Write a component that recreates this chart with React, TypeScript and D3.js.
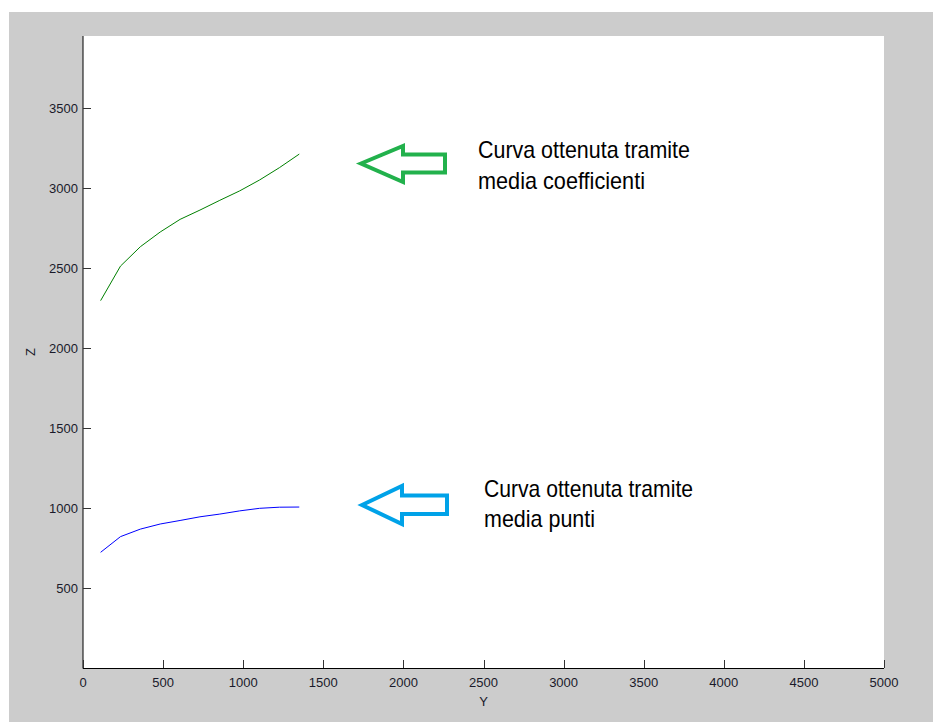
import React from "react";
import * as d3 from "d3";

// Sampled Y positions shared by both curves
const yValues = [110, 234, 358, 482, 606, 730, 854, 978, 1102, 1226, 1350];
// Curve from averaged coefficients
const zCoefficients = [2296, 2512, 2633, 2725, 2804, 2862, 2923, 2982, 3050, 3127, 3212];
// Curve from averaged points
const zPoints = [723, 821, 868, 900, 922, 945, 962, 982, 998, 1005, 1006];

const xTicks = [0, 500, 1000, 1500, 2000, 2500, 3000, 3500, 4000, 4500, 5000];
const yTicks = [500, 1000, 1500, 2000, 2500, 3000, 3500];

const W = 933;
const H = 722;
const left = 83;
const right = 884;
const top = 36;
const bottom = 668;

export default function App() {
  const x = d3.scaleLinear().domain([0, 5000]).range([left, right]);
  const y = d3.scaleLinear().domain([0, 3950]).range([bottom, top]);

  const line = d3
    .line<number>()
    .x((_, i) => x(yValues[i]))
    .y((d) => y(d));

  // Hollow left-pointing arrow
  const arrow = (tipX: number, tipY: number, headX: number, headTop: number, headBot: number, shaftTop: number, shaftBot: number, endX: number) =>
    `M${tipX},${tipY} L${headX},${headTop} L${headX},${shaftTop} L${endX},${shaftTop} L${endX},${shaftBot} L${headX},${shaftBot} L${headX},${headBot} Z`;

  const font = "'Liberation Sans', Arial, sans-serif";

  return (
    <svg
      width={W}
      height={H}
      style={{ position: "absolute", left: 0, top: 0, background: "#fff" }}
    >
      <rect x={9} y={12} width={W - 9} height={H - 12} fill="#cccccc" />
      <rect x={left} y={top} width={right - left} height={bottom - top} fill="#ffffff" />

      {/* axes */}
      <line x1={left} y1={top} x2={left} y2={bottom + 0.5} stroke="#000" strokeWidth={1} />
      <line x1={left} y1={bottom + 0.5} x2={right} y2={bottom + 0.5} stroke="#000" strokeWidth={1} />

      {xTicks.map((t) => (
        <g key={"x" + t}>
          <line x1={Math.round(x(t)) + 0.5} x2={Math.round(x(t)) + 0.5} y1={bottom} y2={bottom - 8} stroke="#333" />
          <text
            x={x(t)}
            y={687}
            textAnchor="middle"
            fontFamily={font}
            fontSize={13}
            fill="#1a1a2a"
          >
            {t}
          </text>
        </g>
      ))}
      {yTicks.map((t) => (
        <g key={"y" + t}>
          <line x1={left} x2={left + 8} y1={Math.round(y(t)) + 0.5} y2={Math.round(y(t)) + 0.5} stroke="#333" />
          <text
            x={78}
            y={y(t) + 4.5}
            textAnchor="end"
            fontFamily={font}
            fontSize={13}
            fill="#1a1a2a"
          >
            {t}
          </text>
        </g>
      ))}

      <text x={(left + right) / 2} y={706} textAnchor="middle" fontFamily={font} fontSize={13} fill="#1a1a2a">
        Y
      </text>
      <text
        transform={`translate(35,352) rotate(-90)`}
        textAnchor="middle"
        fontFamily={font}
        fontSize={13}
        fill="#1a1a2a"
      >
        Z
      </text>

      <path d={line(zCoefficients) ?? ""} fill="none" stroke="#008000" strokeWidth={1} />
      <path d={line(zPoints) ?? ""} fill="none" stroke="#0000ff" strokeWidth={1} />

      <path
        d={arrow(361, 163.5, 403, 146, 182, 154.5, 172.5, 445)}
        fill="none"
        stroke="#22b14c"
        strokeWidth={4}
        strokeLinejoin="miter"
      />
      <path
        d={arrow(362, 505, 402, 486, 524, 495.5, 514, 447)}
        fill="none"
        stroke="#00a2e8"
        strokeWidth={4}
        strokeLinejoin="miter"
      />

      <text fontFamily={font} fontSize={24} fill="#000">
        <tspan x={478} y={158} textLength={212} lengthAdjust="spacingAndGlyphs">
          Curva ottenuta tramite
        </tspan>
        <tspan x={478} y={189} textLength={167} lengthAdjust="spacingAndGlyphs">
          media coefficienti
        </tspan>
      </text>
      <text fontFamily={font} fontSize={24} fill="#000">
        <tspan x={484} y={497} textLength={209} lengthAdjust="spacingAndGlyphs">
          Curva ottenuta tramite
        </tspan>
        <tspan x={484} y={527} textLength={111} lengthAdjust="spacingAndGlyphs">
          media punti
        </tspan>
      </text>
    </svg>
  );
}
